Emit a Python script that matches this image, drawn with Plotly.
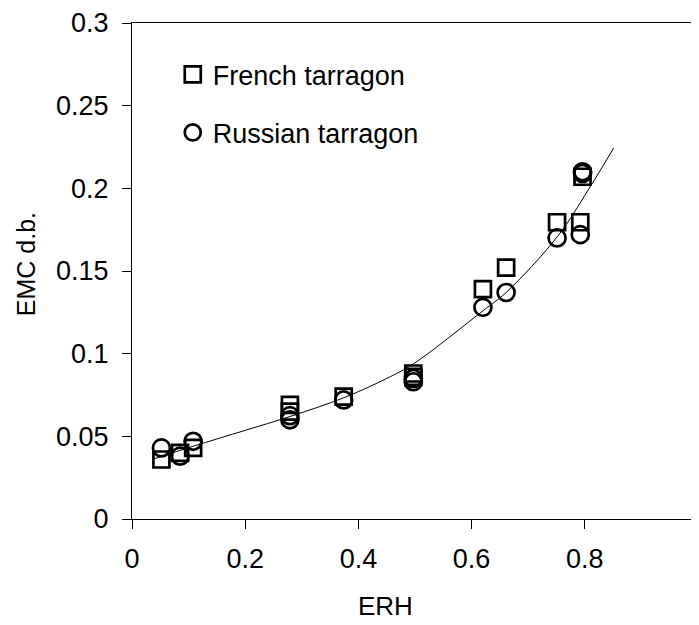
import plotly.graph_objects as go

# ---- data ----
french_erh = [0.052, 0.085, 0.108, 0.279, 0.279, 0.374, 0.497, 0.497, 0.620, 0.661, 0.751, 0.792, 0.796]
french_emc = [0.036, 0.040, 0.043, 0.069, 0.065, 0.074, 0.088, 0.086, 0.139, 0.152, 0.1795, 0.1795, 0.207]

russian_erh = [0.052, 0.085, 0.108, 0.279, 0.279, 0.374, 0.497, 0.497, 0.620, 0.661, 0.751, 0.792, 0.796, 0.796]
russian_emc = [0.043, 0.038, 0.047, 0.0625, 0.060, 0.072, 0.085, 0.083, 0.128, 0.137, 0.170, 0.172, 0.210, 0.209]

# fitted curve
curve_erh = [0.040, 0.108, 0.200, 0.279, 0.374, 0.450, 0.497, 0.621, 0.661, 0.752, 0.806, 0.851]
curve_emc = [0.0365, 0.044, 0.0536, 0.062, 0.0733, 0.085, 0.0938, 0.1262, 0.137, 0.171, 0.199, 0.2244]

x_tickvals = [0, 0.2, 0.4, 0.6, 0.8, 1]
x_ticktext = ["0", "0.2", "0.4", "0.6", "0.8", "1"]
y_tickvals = [0, 0.05, 0.1, 0.15, 0.2, 0.25, 0.3]
y_ticktext = ["0", "0.05", "0.1", "0.15", "0.2", "0.25", "0.3"]

FONT = "Liberation Sans, Arial, Helvetica, sans-serif"

fig = go.Figure()

fig.add_trace(go.Scatter(
    x=curve_erh, y=curve_emc, mode="lines",
    line=dict(color="black", width=1, shape="spline", smoothing=1.0),
    showlegend=False, hoverinfo="skip",
))

fig.add_trace(go.Scatter(
    x=french_erh, y=french_emc, mode="markers", name="French tarragon",
    legendgroup="f",
    marker=dict(symbol="square-open", size=16, color="black",
                line=dict(color="black", width=2.7)),
))

fig.add_trace(go.Scatter(
    x=russian_erh, y=russian_emc, mode="markers", name="Russian tarragon",
    legendgroup="r",
    marker=dict(symbol="circle-open", size=17, color="black",
                line=dict(color="black", width=2.7)),
))

axis_common = dict(
    showgrid=False, zeroline=False, automargin=False,
    showline=True, linecolor="black", linewidth=1, mirror=True,
    ticks="outside", ticklen=9, tickwidth=1, tickcolor="black",
    tickfont=dict(family=FONT, size=27, color="black"),
)

fig.update_xaxes(range=[0, 1], tickmode="array", tickvals=x_tickvals,
                 ticktext=x_ticktext, ticklabelstandoff=7,
                 ticklabeloverflow="allow", **axis_common)
fig.update_yaxes(range=[0, 0.3], tickmode="array", tickvals=y_tickvals,
                 ticktext=y_ticktext, ticklabelstandoff=8, **axis_common)

# the page body has an 8px margin, so the figure is sized to fit the window
fig.update_layout(
    width=691, height=617,
    margin=dict(l=124, r=1, t=15, b=106, autoexpand=False),
    paper_bgcolor="white", plot_bgcolor="white",
    font=dict(family=FONT, size=27, color="black"),
    showlegend=True,
    legend=dict(
        x=0.072, y=0.945, xanchor="left", yanchor="top",
        bgcolor="rgba(0,0,0,0)", borderwidth=0,
        traceorder="grouped", tracegroupgap=20,
        font=dict(family=FONT, size=27, color="black"),
        itemsizing="trace",
    ),
    annotations=[
        dict(text="ERH", xref="paper", yref="paper", x=0.448, y=-0.175,
             xanchor="center", yanchor="middle", showarrow=False,
             font=dict(family=FONT, size=26, color="black")),
        dict(text="EMC d.b.", xref="paper", yref="paper", x=-0.188, y=0.513,
             xanchor="center", yanchor="middle", showarrow=False, textangle=-90,
             font=dict(family=FONT, size=25, color="black")),
    ],
)

fig.write_html("out.html")
